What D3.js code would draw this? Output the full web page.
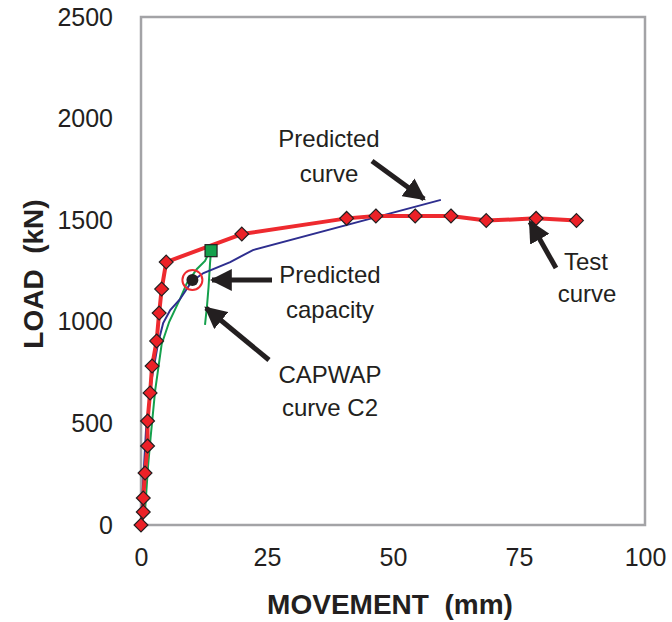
<!DOCTYPE html>
<html>
<head>
<meta charset="utf-8">
<script src="https://cdn.jsdelivr.net/npm/d3@7"></script>
<style>
  html, body { margin: 0; padding: 0; background: #fff; }
  svg { display: block; }
  text { font-family: "Liberation Sans", Arial, Helvetica, sans-serif; fill: #231f20; }
</style>
</head>
<body>
<svg id="chart" width="672" height="622"></svg>
<script>
// Pile load test: load vs. movement
const xTicks = [0, 25, 50, 75, 100];
const yTicks = [0, 500, 1000, 1500, 2000, 2500];

// Static load test (measured)
const testMove = [0, 0.45, 0.45, 0.8, 1.3, 1.3, 1.8, 2.2, 3.1, 3.6, 4.1, 5.0, 20.0, 40.8, 46.6, 54.4, 61.5, 68.5, 78.4, 86.4];
const testLoad = [0, 64, 133, 256, 389, 512, 650, 782, 906, 1043, 1161, 1294, 1432, 1509, 1521, 1521, 1521, 1498, 1509, 1498];

// Predicted load-movement curve
const predMove = [0, 0.4, 1.0, 2.1, 3.4, 4.4, 5.8, 7.7, 10.1, 12.4, 17.7, 22.2, 59.5];
const predLoad = [0, 200, 470, 714, 896, 994, 1058, 1110, 1200, 1240, 1294, 1353, 1600];

// CAPWAP curve C2: loading branch then unloading branch
const capMove = [0, 0.8, 1.4, 1.9, 2.8, 4.1, 5.6, 7.7, 9.1, 11.1, 12.7, 13.7, 13.9, 13.7, 13.4, 13.1, 12.7];
const capLoad = [0, 70, 290, 430, 660, 890, 1000, 1110, 1190, 1260, 1300, 1350, 1350, 1290, 1170, 1080, 985];

// Single-point markers
const predictedCapacity = { move: 10.2, load: 1206 };
const capwapCapacity = { move: 13.9, load: 1350 };

const svg = d3.select("#chart");
const plotLeft = 141, plotRight = 645, plotTop = 17, plotBottom = 525;

const x = d3.scaleLinear().domain([0, 100]).range([plotLeft, plotRight]);
const y = d3.scaleLinear().domain([0, 2500]).range([plotBottom, plotTop]);

// Plot frame
svg.append("rect")
  .attr("x", plotLeft).attr("y", plotTop)
  .attr("width", plotRight - plotLeft).attr("height", plotBottom - plotTop)
  .attr("fill", "none").attr("stroke", "#a3a3a6").attr("stroke-width", 2.5);

// Axes (labels only, no tick marks)
const fmt = d3.format("d");
const xAxis = svg.append("g").attr("transform", `translate(0,${plotBottom})`)
  .call(d3.axisBottom(x).tickValues(xTicks).tickFormat(fmt).tickSize(0).tickPadding(23));
const yAxis = svg.append("g").attr("transform", `translate(${plotLeft},0)`)
  .call(d3.axisLeft(y).tickValues(yTicks).tickFormat(fmt).tickSize(0).tickPadding(28));
[xAxis, yAxis].forEach(g => {
  g.select(".domain").remove();
  g.selectAll("text")
    .attr("font-family", "Liberation Sans, Arial, sans-serif")
    .attr("font-size", 25).attr("fill", "#231f20");
});

svg.append("text")
  .attr("x", 390).attr("y", 614)
  .attr("text-anchor", "middle")
  .attr("font-size", 28).attr("font-weight", "bold")
  .attr("xml:space", "preserve")
  .text("MOVEMENT  (mm)");

svg.append("text")
  .attr("transform", "translate(43,274) rotate(-90)")
  .attr("text-anchor", "middle")
  .attr("font-size", 28).attr("font-weight", "bold")
  .attr("xml:space", "preserve")
  .text("LOAD  (kN)");

const line = d3.line().x(d => x(d[0])).y(d => y(d[1]));
const zip = (a, b) => a.map((v, i) => [v, b[i]]);

// Curves
svg.append("path").datum(zip(capMove, capLoad))
  .attr("d", line).attr("fill", "none")
  .attr("stroke", "#14a04c").attr("stroke-width", 2);
svg.append("path").datum(zip(predMove, predLoad))
  .attr("d", line).attr("fill", "none")
  .attr("stroke", "#2e2e8f").attr("stroke-width", 2);
svg.append("path").datum(zip(testMove, testLoad))
  .attr("d", line).attr("fill", "none")
  .attr("stroke", "#ee2a2f").attr("stroke-width", 4).attr("stroke-linejoin", "round");

// Test-point diamonds
svg.append("g").selectAll("path").data(zip(testMove, testLoad)).join("path")
  .attr("transform", d => `translate(${x(d[0])},${y(d[1])})`)
  .attr("d", d3.symbol(d3.symbolDiamond2, 122))
  .attr("fill", "#ec2127").attr("stroke", "#231f20").attr("stroke-width", 1.2);

// CAPWAP capacity square
svg.append("rect")
  .attr("x", x(capwapCapacity.move) - 6).attr("y", y(capwapCapacity.load) - 6)
  .attr("width", 12).attr("height", 12)
  .attr("fill", "#14a04c").attr("stroke", "#231f20").attr("stroke-width", 1.2);

// Predicted capacity point with ring
svg.append("circle")
  .attr("cx", x(predictedCapacity.move)).attr("cy", y(predictedCapacity.load))
  .attr("r", 10).attr("fill", "none").attr("stroke", "#ee2a2f").attr("stroke-width", 2);
svg.append("circle")
  .attr("cx", x(predictedCapacity.move)).attr("cy", y(predictedCapacity.load))
  .attr("r", 6).attr("fill", "#231f20");

// Annotation arrows
svg.append("defs").append("marker")
  .attr("id", "head").attr("viewBox", "0 0 10 10")
  .attr("refX", 9).attr("refY", 5)
  .attr("markerWidth", 4.4).attr("markerHeight", 4.4)
  .attr("markerUnits", "strokeWidth")
  .attr("orient", "auto")
  .append("path").attr("d", "M0,0 L10,5 L0,10 Z").attr("fill", "#231f20");

const arrows = [
  [372, 161, 424, 199],
  [272, 280, 212, 280],
  [269, 360, 206, 308],
  [556, 268, 530, 222]
];
svg.append("g").selectAll("line").data(arrows).join("line")
  .attr("x1", d => d[0]).attr("y1", d => d[1])
  .attr("x2", d => d[2]).attr("y2", d => d[3])
  .attr("stroke", "#231f20").attr("stroke-width", 5)
  .attr("marker-end", "url(#head)");

// Annotation text
const notes = [
  ["Predicted", 329, 147], ["curve", 329, 182],
  ["Predicted", 330, 283], ["capacity", 330, 318],
  ["CAPWAP", 330, 383], ["curve C2", 330, 416],
  ["Test", 586, 270], ["curve", 587, 302]
];
svg.append("g").selectAll("text").data(notes).join("text")
  .attr("x", d => d[1]).attr("y", d => d[2])
  .attr("text-anchor", "middle")
  .attr("font-size", 24)
  .text(d => d[0]);
</script>
</body>
</html>
